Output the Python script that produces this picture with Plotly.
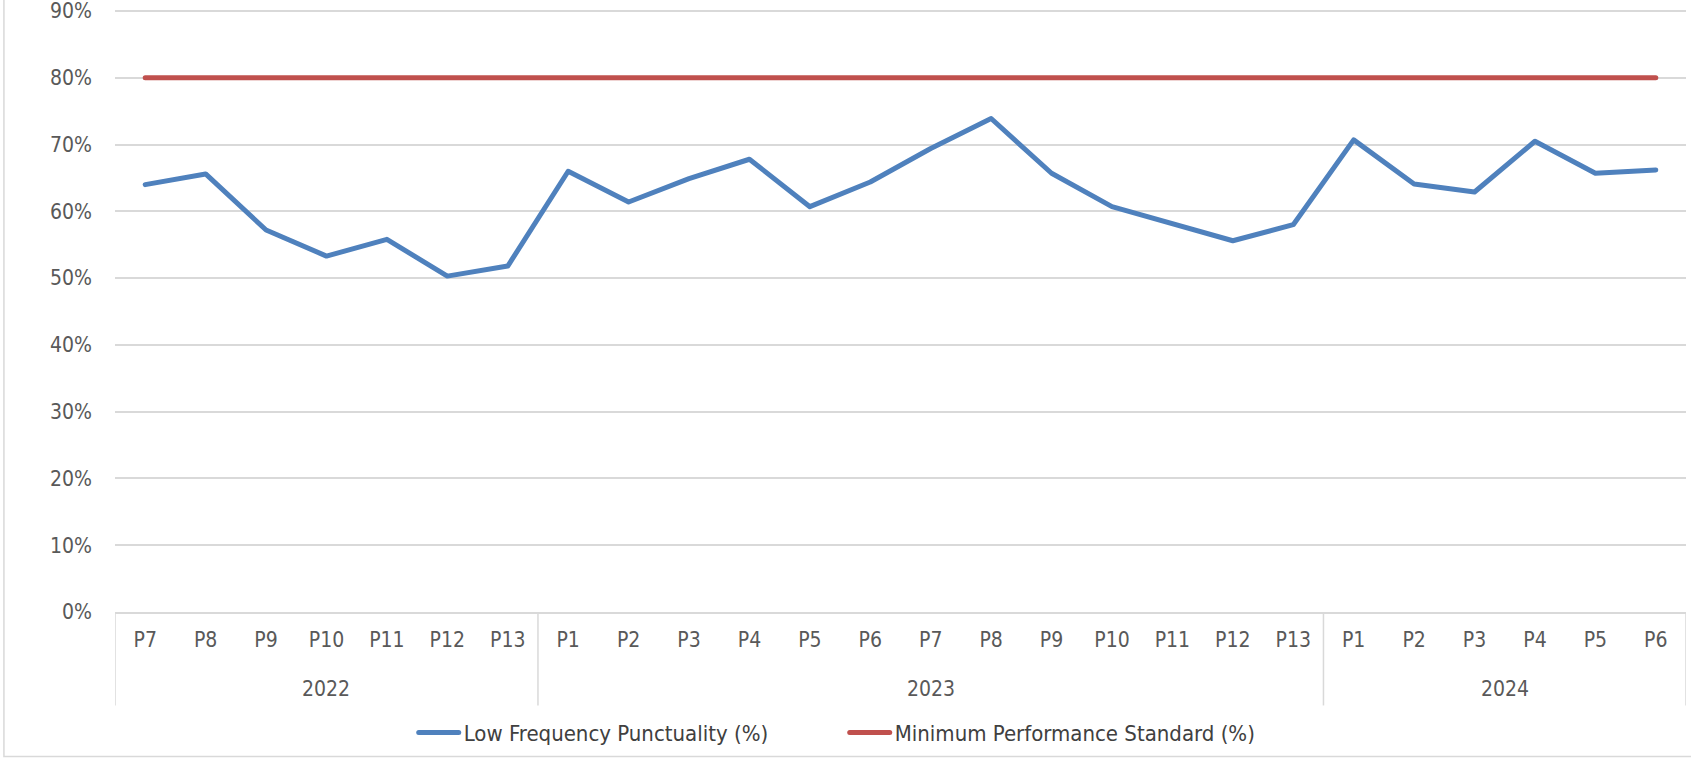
import plotly.graph_objects as go

year_names = ["2022", "2023", "2024"]
year_periods = [
    ["P7", "P8", "P9", "P10", "P11", "P12", "P13"],
    ["P1", "P2", "P3", "P4", "P5", "P6", "P7", "P8", "P9", "P10", "P11", "P12", "P13"],
    ["P1", "P2", "P3", "P4", "P5", "P6"],
]
low_freq_punctuality = [64.0, 65.6, 57.2, 53.3, 55.8, 50.3, 51.8,
                        66.0, 61.4, 64.9, 67.8, 60.7, 64.4, 69.4, 73.9, 65.7, 60.7, 58.1, 55.6, 58.0,
                        70.7, 64.1, 62.9, 70.5, 65.7, 66.2]
min_standard = [80] * 26
y_ticks = [0, 10, 20, 30, 40, 50, 60, 70, 80, 90]
y_tick_labels = ["0%", "10%", "20%", "30%", "40%", "50%", "60%", "70%", "80%", "90%"]

# unique category keys + display labels
categories, period_labels = [], []
for yname, plist in zip(year_names, year_periods):
    for p in plist:
        categories.append(f"{yname} {p}")
        period_labels.append(p)

FONT = "DejaVu Sans Condensed, Liberation Sans Narrow, sans-serif"
GRID = "#d9d9d9"
TXT = "#595959"

fig = go.Figure()
fig.add_trace(go.Scatter(
    x=categories, y=low_freq_punctuality, mode="lines",
    name="Low Frequency Punctuality (%)",
    line=dict(color="#4F81BD", width=5),
))
fig.add_trace(go.Scatter(
    x=categories, y=min_standard, mode="lines",
    name="Minimum Performance Standard (%)",
    line=dict(color="#C0504D", width=5),
))

# group dividers and year labels (placed via category index on the x axis)
shapes = []
annotations = []
start = 0
div_bottom = -(706 - 612.7) / 602
shapes.append(dict(type="line", xref="x", yref="paper", x0=start - 0.5, x1=start - 0.5,
                   y0=0, y1=div_bottom, line=dict(color=GRID, width=1.5)))
for yname, plist in zip(year_names, year_periods):
    end = start + len(plist)
    shapes.append(dict(type="line", xref="x", yref="paper", x0=end - 0.5, x1=end - 0.5,
                       y0=0, y1=div_bottom, line=dict(color=GRID, width=1.5)))
    annotations.append(dict(x=(start + end - 1) / 2, xref="x", y=-(690 - 612.7) / 602, yref="paper",
                            text=yname, showarrow=False, yanchor="middle", xanchor="center",
                            font=dict(family=FONT, size=21, color=TXT)))
    start = end

# outer chart border
shapes.append(dict(type="rect", xref="paper", yref="paper", x0=-0.0707, x1=1.01, y0=-0.2397, y1=1.05,
                   line=dict(color=GRID, width=1.5), fillcolor="rgba(0,0,0,0)", layer="below"))

fig.update_layout(
    width=1691, height=758,
    margin=dict(l=115, r=5, t=9, b=145),
    paper_bgcolor="white", plot_bgcolor="white",
    font=dict(family=FONT, size=21, color=TXT),
    showlegend=True,
    legend=dict(orientation="h", x=0.4645, xanchor="center", xref="paper",
                y=-(732 - 612.7) / 602, yref="paper", yanchor="middle",
                font=dict(family=FONT, size=22, color="#404040"),
                entrywidth=376, entrywidthmode="pixels",
                itemwidth=40, tracegroupgap=0, bgcolor="rgba(0,0,0,0)"),
    xaxis=dict(type="category", range=[-0.5, len(categories) - 0.5], automargin=False,
               tickmode="array", tickvals=categories, ticktext=period_labels,
               showgrid=False, showline=True, linecolor=GRID, linewidth=1.5, zeroline=False,
               ticks="", tickfont=dict(family=FONT, size=21, color=TXT),
               ticklabelstandoff=8),
    yaxis=dict(range=[0, 90.3], tickmode="array", tickvals=y_ticks, ticktext=y_tick_labels,
               automargin=False, ticklabeloverflow="allow",
               showgrid=True, gridcolor=GRID, gridwidth=1.5,
               zeroline=False, showline=False, ticks="", ticklabelstandoff=22,
               tickfont=dict(family=FONT, size=21, color=TXT)),
    shapes=shapes,
    annotations=annotations,
)

post = (
    "document.body.style.margin='0';document.body.style.overflow='hidden';"
    "var s=document.createElement('style');"
    "s.textContent='.scatterlayer path.js-line, .legend path.js-line{stroke-linecap:round;stroke-linejoin:round;}';"
    "document.head.appendChild(s);"
)
fig.write_html("out.html", config={"displayModeBar": False}, post_script=post)
